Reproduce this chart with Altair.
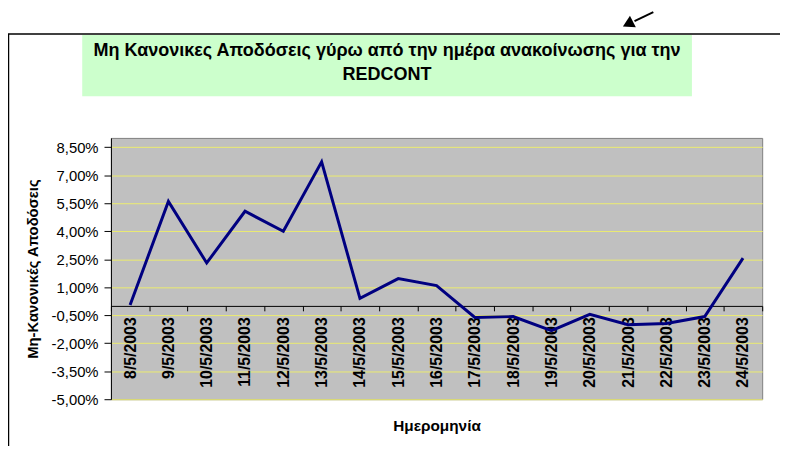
import altair as alt
import pandas as pd

# ---- data ----
dates = ["8/5/2003", "9/5/2003", "10/5/2003", "11/5/2003", "12/5/2003", "13/5/2003",
         "14/5/2003", "15/5/2003", "16/5/2003", "17/5/2003", "18/5/2003", "19/5/2003",
         "20/5/2003", "21/5/2003", "22/5/2003", "23/5/2003", "24/5/2003"]
returns = [0.0005, 0.0560, 0.0230, 0.0507, 0.0400, 0.0772,
           0.0040, 0.0146, 0.0109, -0.0062, -0.0057, -0.0133,
           -0.0045, -0.0101, -0.0094, -0.0057, 0.0256]
y_ticks = [-0.05, -0.035, -0.02, -0.005, 0.01, 0.025, 0.04, 0.055, 0.07, 0.085]
title_lines = ["Μη Κανονικες Αποδόσεις γύρω από την ημέρα ανακοίνωσης για την", "REDCONT"]
y_title = "Μη-Κανονικές Αποδόσεις"
x_title = "Ημερομηνία"

df = pd.DataFrame({"date": dates, "ret": returns})
one = pd.DataFrame({"k": [0]})

FONT = "Liberation Sans"
W, H = 658, 264
Y_MIN, Y_MAX = -0.05, 0.09
zero_offset = -H * (0 - Y_MIN) / (Y_MAX - Y_MIN)

label_expr = "replace(replace(format(datum.value, '.2%'), '.', ','), '\u2212', '-')"

line = alt.Chart(df).mark_line(color="#000080", strokeWidth=3).encode(
    x=alt.X(
        "date:N", sort=dates,
        scale=alt.Scale(type="band", paddingInner=0, paddingOuter=0),
        axis=alt.Axis(
            title=x_title, labelAngle=-90, offset=zero_offset, tickBand="extent",
            tickSize=5, labelPadding=6, labelFont=FONT, labelFontSize=16,
            labelFontWeight="bold", labelColor="black", domainColor="black",
            tickColor="black", grid=False, labelOverlap=False,
            titleFont=FONT, titleFontSize=15.5, titleFontWeight="bold", titleColor="black",
            titleY=121, titleBaseline="middle",
        ),
    ),
    y=alt.Y(
        "ret:Q",
        scale=alt.Scale(domain=[Y_MIN, Y_MAX], nice=False, zero=False),
        axis=alt.Axis(
            title=y_title, values=y_ticks, labelExpr=label_expr,
            grid=True, gridColor="#ECEC6E", gridWidth=1,
            domainColor="black", tickColor="black", tickSize=7, labelPadding=6,
            labelFont=FONT, labelFontSize=15, labelColor="black",
            titleFont=FONT, titleFontSize=15, titleFontWeight="bold", titleColor="black",
            titleAngle=-90, titleX=-79, titleY=H / 2, titleAlign="center",
            titleBaseline="middle",
        ),
    ),
)

# decorations (title box, frame, arrow)
box = alt.Chart(one).mark_rect(color="#CCFFCC").encode(
    x=alt.value(-29), x2=alt.value(587), y=alt.value(-104), y2=alt.value(-42))
t1 = alt.Chart(one).mark_text(text=title_lines[0], font=FONT, fontSize=18.2, fontWeight="bold",
                              align="center", baseline="middle", color="black").encode(
    x=alt.value(279), y=alt.value(-88))
t2 = alt.Chart(one).mark_text(text=title_lines[1], font=FONT, fontSize=18.2, fontWeight="bold",
                              align="center", baseline="middle", color="black").encode(
    x=alt.value(279), y=alt.value(-64))
frame_top = alt.Chart(one).mark_rule(color="black", strokeWidth=1.5).encode(
    x=alt.value(-104), x2=alt.value(680), y=alt.value(-105), y2=alt.value(-105))
frame_left = alt.Chart(one).mark_rule(color="black", strokeWidth=1.5).encode(
    x=alt.value(-103.5), x2=alt.value(-103.5), y=alt.value(-105), y2=alt.value(320))
arrow_shaft = alt.Chart(one).mark_rule(color="black", strokeWidth=2).encode(
    x=alt.value(548), x2=alt.value(529), y=alt.value(-127), y2=alt.value(-118))
arrow_head = alt.Chart(one).mark_point(shape="triangle", filled=True, color="black",
                                       size=170, angle=243, opacity=1).encode(
    x=alt.value(524), y=alt.value(-116))

chart = alt.layer(box, t1, t2, frame_top, frame_left, arrow_shaft, arrow_head, line).properties(
    width=W, height=H,
    autosize=alt.AutoSizeParams(type="none"),
    padding={"left": 104, "top": 129, "right": 18, "bottom": 45},
    background="white",
).configure_view(
    fill="#C0C0C0", stroke="#808080", strokeWidth=1
)

chart.save("out.html", embed_options={"renderer": "svg", "actions": False})
